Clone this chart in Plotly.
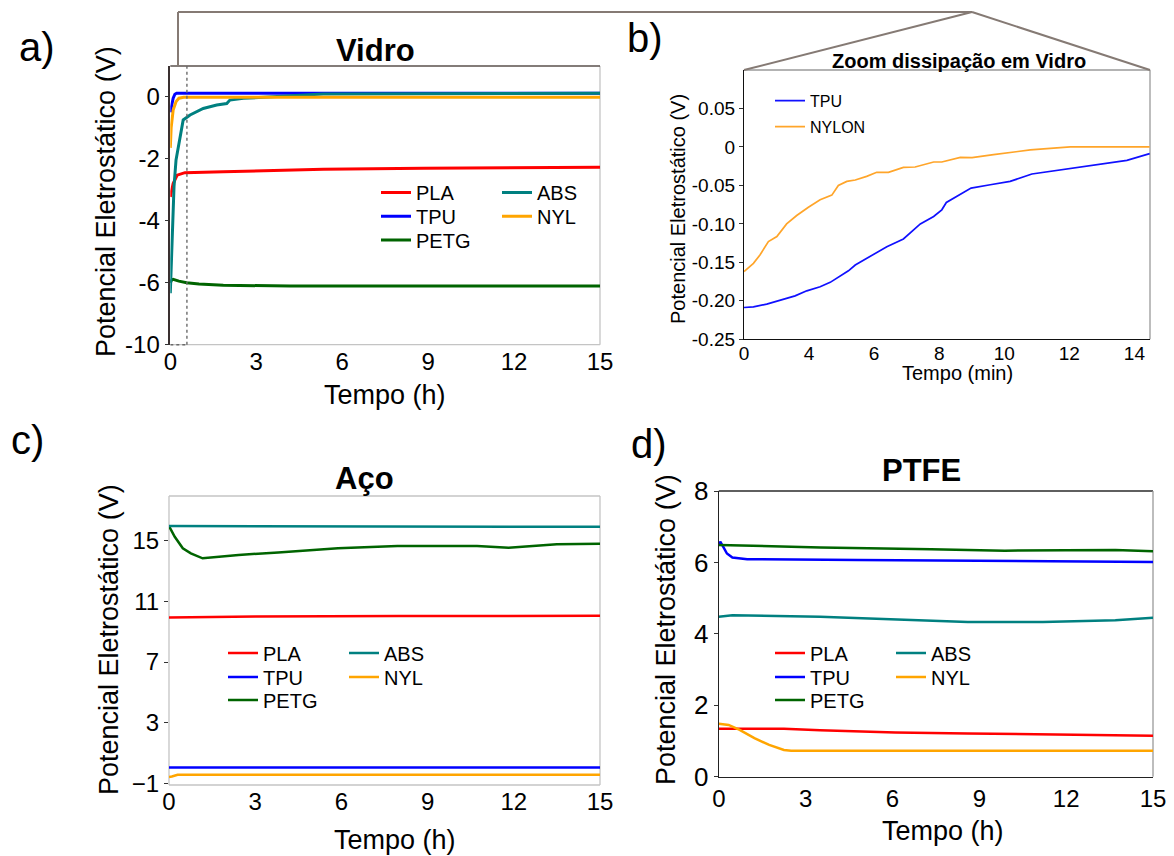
import plotly.graph_objects as go

W, H = 1174, 856
FONT = "Liberation Sans, Arial, sans-serif"

# ---------------- data ----------------
# a) Vidro  (time in h, potential in V)
vid_pla_t = [0, 0.1, 0.24, 0.51, 1.85, 5.34, 8.84, 12.33, 15]
vid_pla_v = [-3.23, -2.80, -2.53, -2.45, -2.42, -2.34, -2.31, -2.28, -2.28]
vid_tpu_t = [0, 0.05, 0.1, 0.16, 0.22, 15]
vid_tpu_v = [-0.50, -0.30, -0.05, 0.08, 0.11, 0.11]
vid_petg_t = [0, 0.05, 0.1, 0.3, 0.57, 1.0, 1.85, 3.0, 4.18, 8.84, 15]
vid_petg_v = [-6.0, -5.91, -5.89, -5.95, -6.0, -6.04, -6.08, -6.10, -6.11, -6.11, -6.11]
vid_abs_t = [0, 0.05, 0.09, 0.13, 0.2, 0.34, 0.45, 0.69, 1.15, 1.62, 1.97, 2.08, 2.55, 3.25, 4.18, 5.34, 15]
vid_abs_v = [-6.34, -5.0, -4.19, -2.9, -2.04, -1.29, -0.75, -0.59, -0.38, -0.27, -0.22, -0.11, -0.05, -0.02, 0.02, 0.09, 0.11]
vid_nyl_t = [0, 0.03, 0.1, 0.2, 0.3, 0.47, 15]
vid_nyl_v = [-1.65, -1.0, -0.43, -0.16, -0.05, -0.02, -0.02]
vid_y_ticks = [0, -2, -4, -6, -8]
vid_y_text = ["0", "-2", "-4", "-6", "-10"]
zoom_window_h = 0.58

# b) Zoom dissipação em Vidro  (time in min, potential in V)
zoom_tpu_t = [2.0, 2.29, 2.70, 3.26, 3.57, 3.93, 4.34, 4.65, 4.95, 5.21, 5.42, 5.98, 6.39, 6.90,
              7.42, 7.83, 8.08, 8.22, 8.65, 8.98, 9.57, 10.18, 10.85, 11.62, 12.54, 13.16, 13.77, 14.47]
zoom_tpu_v = [-0.2087, -0.2078, -0.2043, -0.1978, -0.1935, -0.187, -0.1817, -0.176, -0.168, -0.161,
              -0.1535, -0.140, -0.1296, -0.1196, -0.100, -0.0904, -0.0817, -0.0722, -0.0622, -0.0535,
              -0.0491, -0.0448, -0.0352, -0.0304, -0.0252, -0.0217, -0.0174, -0.0087]
zoom_nyl_t = [2.0, 2.29, 2.49, 2.75, 3.01, 3.31, 3.62, 3.98, 4.34, 4.70, 4.90, 5.16, 5.42, 5.77,
              6.08, 6.44, 6.90, 7.26, 7.83, 8.08, 8.65, 9.01, 9.67, 10.80, 12.03, 14.47]
zoom_nyl_v = [-0.162, -0.1513, -0.1404, -0.123, -0.1165, -0.100, -0.0891, -0.0783, -0.0687, -0.0626,
              -0.050, -0.0448, -0.043, -0.0383, -0.033, -0.033, -0.0265, -0.0261, -0.0196, -0.0196,
              -0.0135, -0.0139, -0.010, -0.0039, 0.0, 0.0]
zoom_x_ticks = [2, 4, 6, 8, 10, 12, 14]
zoom_x_text = ["0", "4", "6", "8", "10", "12", "14"]
zoom_y_ticks = [-0.25, -0.20, -0.15, -0.10, -0.05, 0, 0.05]
zoom_y_text = ["-0.25", "-0.20", "-0.15", "-0.10", "-0.05", "0", "0.05"]

# c) Aço
aco_pla_t = [0, 3, 8, 15]
aco_pla_v = [9.93, 10.0, 10.03, 10.05]
aco_tpu_t = [0, 15]
aco_tpu_v = [0.05, 0.05]
aco_petg_t = [0, 0.2, 0.48, 0.76, 1.17, 2.42, 3.8, 5.88, 7.95, 10.72, 11.82, 13.5, 15]
aco_petg_v = [15.97, 15.26, 14.5, 14.17, 13.84, 14.06, 14.23, 14.5, 14.65, 14.65, 14.54, 14.76, 14.8]
aco_abs_t = [0, 3, 6, 9, 12, 15]
aco_abs_v = [15.97, 15.95, 15.93, 15.92, 15.92, 15.92]
aco_nyl_t = [0, 0.1, 0.3, 15]
aco_nyl_v = [-0.58, -0.55, -0.43, -0.43]
aco_y_ticks = [-1, 3, 7, 11, 15]

# d) PTFE
ptfe_pla_t = [0, 2.25, 3.5, 6.1, 8.6, 11.2, 15]
ptfe_pla_v = [1.34, 1.34, 1.30, 1.24, 1.21, 1.18, 1.15]
ptfe_tpu_t = [0, 0.05, 0.15, 0.28, 0.47, 0.98, 4.8, 9.0, 15]
ptfe_tpu_v = [6.5, 6.58, 6.44, 6.25, 6.14, 6.09, 6.07, 6.04, 6.01]
ptfe_petg_t = [0, 3.52, 7.33, 9.88, 13.7, 15]
ptfe_petg_v = [6.49, 6.42, 6.37, 6.33, 6.35, 6.31]
ptfe_abs_t = [0, 0.47, 3.5, 6.1, 8.6, 11.2, 13.7, 15]
ptfe_abs_v = [4.48, 4.52, 4.48, 4.41, 4.33, 4.33, 4.38, 4.45]
ptfe_nyl_t = [0, 0.34, 0.72, 1.23, 1.74, 2.25, 2.5, 15]
ptfe_nyl_v = [1.48, 1.45, 1.31, 1.08, 0.89, 0.75, 0.73, 0.73]
ptfe_y_ticks = [0, 2, 4, 6, 8]

hour_ticks = [0, 3, 6, 9, 12, 15]

COL = {"PLA": "#ff0000", "TPU": "#0000ff", "PETG": "#006400", "ABS": "#008080", "NYL": "#ffa500"}


def fx(px):
    return px / W


def fy(py):
    return 1 - py / H


fig = go.Figure()


def add_panel(ax, series, legends, width):
    xa, ya = ("x", "y") if ax == 1 else (f"x{ax}", f"y{ax}")
    for (name, t, v) in series:
        fig.add_trace(go.Scatter(
            x=t, y=v, mode="lines", name=name, xaxis=xa, yaxis=ya,
            line=dict(color=COL[name], width=width), legend=legends[name],
            hoverinfo="x+y+name"))


add_panel(1, [("PLA", vid_pla_t, vid_pla_v), ("TPU", vid_tpu_t, vid_tpu_v),
              ("PETG", vid_petg_t, vid_petg_v), ("ABS", vid_abs_t, vid_abs_v),
              ("NYL", vid_nyl_t, vid_nyl_v)],
          {"PLA": "legend", "ABS": "legend", "TPU": "legend2", "NYL": "legend2", "PETG": "legend3"}, 3)

fig.add_trace(go.Scatter(x=zoom_tpu_t, y=zoom_tpu_v, mode="lines", name="TPU", xaxis="x2", yaxis="y2",
                         line=dict(color="#1010ff", width=1.7), legend="legend10"))
fig.add_trace(go.Scatter(x=zoom_nyl_t, y=zoom_nyl_v, mode="lines", name="NYLON", xaxis="x2", yaxis="y2",
                         line=dict(color="#ffa52a", width=1.7), legend="legend11"))

add_panel(3, [("PLA", aco_pla_t, aco_pla_v), ("TPU", aco_tpu_t, aco_tpu_v),
              ("PETG", aco_petg_t, aco_petg_v), ("ABS", aco_abs_t, aco_abs_v),
              ("NYL", aco_nyl_t, aco_nyl_v)],
          {"PLA": "legend4", "ABS": "legend4", "TPU": "legend5", "NYL": "legend5", "PETG": "legend6"}, 2.5)

add_panel(4, [("PLA", ptfe_pla_t, ptfe_pla_v), ("TPU", ptfe_tpu_t, ptfe_tpu_v),
              ("PETG", ptfe_petg_t, ptfe_petg_v), ("ABS", ptfe_abs_t, ptfe_abs_v),
              ("NYL", ptfe_nyl_t, ptfe_nyl_v)],
          {"PLA": "legend7", "ABS": "legend7", "TPU": "legend8", "NYL": "legend8", "PETG": "legend9"}, 2.5)

# ---------------- axes ----------------
common = dict(showgrid=False, zeroline=False, color="#000000", tickcolor="#333333", automargin=False)

fig.update_layout(
    xaxis=dict(domain=[fx(170.3), fx(600)], range=[0, 15], tickvals=hour_ticks, ticks="",
               tickfont=dict(size=24), anchor="y", showline=False, **common),
    yaxis=dict(domain=[fy(344.7), fy(66)], range=[-8, 0.99], tickvals=vid_y_ticks, ticktext=vid_y_text,
               ticks="outside", ticklen=4, tickfont=dict(size=24), anchor="x",
               showline=True, linecolor="#3a3030", linewidth=1.5, **common),
    xaxis2=dict(domain=[fx(744), fx(1150)], range=[2, 14.48], tickvals=zoom_x_ticks, ticktext=zoom_x_text,
                ticks="", tickfont=dict(size=19), anchor="y2", ticklabelstandoff=-3,
                showline=True, linecolor="#111111", linewidth=1.3, **common),
    yaxis2=dict(domain=[fy(339.3), fy(70)], range=[-0.25, 0.1], tickvals=zoom_y_ticks, ticktext=zoom_y_text,
                ticks="outside", ticklen=4, tickfont=dict(size=19), anchor="x2",
                showline=True, linecolor="#111111", linewidth=1.3, **common),
    xaxis3=dict(domain=[fx(169), fx(600)], range=[0, 15], tickvals=hour_ticks, ticks="",
                tickfont=dict(size=24), anchor="y3", showline=False, **common),
    yaxis3=dict(domain=[fy(785), fy(496)], range=[-1.11, 17.95], tickvals=aco_y_ticks,
                ticks="outside", ticklen=4, tickfont=dict(size=24), anchor="x3", showline=False, **common),
    xaxis4=dict(domain=[fx(718.8), fx(1153)], range=[0, 15], tickvals=hour_ticks, ticks="",
                tickfont=dict(size=24), anchor="y4",
                showline=True, linecolor="#222222", linewidth=1.3, **common),
    yaxis4=dict(domain=[fy(776.7), fy(491)], range=[0, 8], tickvals=ptfe_y_ticks,
                ticks="outside", ticklen=4, tickfont=dict(size=26), anchor="x4",
                showline=True, linecolor="#222222", linewidth=1.3, **common),
)

# ---------------- legends ----------------
leg_base = dict(orientation="h", entrywidth=76, entrywidthmode="pixels", bgcolor="rgba(0,0,0,0)",
                font=dict(size=20, color="#000000"), xanchor="left", yanchor="top",
                itemclick=False, itemdoubleclick=False)
ROW_OFF = 19.5  # item centre below the legend's top edge for 20 px text


def row_legend(x_line, y_row):
    d = dict(leg_base)
    d.update(x=fx(x_line - 5), y=fy(y_row - ROW_OFF))
    return d


small_leg = dict(orientation="h", bgcolor="rgba(0,0,0,0)", font=dict(size=16, color="#000000"),
                 xanchor="left", yanchor="top", itemclick=False, itemdoubleclick=False)

fig.update_layout(
    legend=row_legend(381, 192.5), legend2=row_legend(381, 216.3), legend3=row_legend(381, 240),
    legend4=row_legend(228, 653), legend5=row_legend(228, 677), legend6=row_legend(228, 700),
    legend7=row_legend(775, 653), legend8=row_legend(775, 677), legend9=row_legend(775, 700),
    legend10=dict(small_leg, x=fx(770), y=fy(100.7 - 16.9)),
    legend11=dict(small_leg, x=fx(770), y=fy(126.7 - 16.9)),
)

# ---------------- frames and zoom indicator ----------------
GRAY = "#c4c4c4"
DARK = "#2a2a2a"
LINK = "#857a74"
shapes = []


def border(ax, side, color, width=1.3, dash="solid"):
    xr, yr = ("x domain", "y domain") if ax == 1 else (f"x{ax} domain", f"y{ax} domain")
    pts = {"top": (0, 1, 1, 1), "bottom": (0, 0, 1, 0), "left": (0, 0, 0, 1), "right": (1, 0, 1, 1)}[side]
    shapes.append(dict(type="line", xref=xr, yref=yr, x0=pts[0], y0=pts[1], x1=pts[2], y1=pts[3],
                       line=dict(color=color, width=width, dash=dash), layer="below"))


# a) frame
border(1, "bottom", GRAY)
border(1, "right", GRAY)
border(1, "top", "#5a504c", 1.5)
# dotted window marking the zoomed interval
shapes.append(dict(type="line", xref="x", yref="y domain", x0=zoom_window_h, x1=zoom_window_h, y0=0, y1=1,
                   line=dict(color="#6a6a6a", width=1.4, dash="dot")))
shapes.append(dict(type="line", xref="x", yref="y domain", x0=0, x1=zoom_window_h, y0=0, y1=0,
                   line=dict(color="#6a6a6a", width=1.4, dash="dot")))
# b) frame
border(2, "top", "#9a9a9a")
border(2, "right", "#9a9a9a")
# c) frame
for s in ("top", "bottom", "left", "right"):
    border(3, s, GRAY)
# d) frame
border(4, "top", DARK)
border(4, "right", "#9a9a9a")

# connector from the Vidro panel to the zoom panel
for (x0, y0, x1, y1) in [(178, 66, 178, 12), (178, 12, 972, 12), (972, 12, 744, 70), (972, 12, 1150, 70)]:
    shapes.append(dict(type="line", xref="paper", yref="paper", x0=fx(x0), y0=fy(y0), x1=fx(x1), y1=fy(y1),
                       line=dict(color=LINK, width=2)))

# ---------------- text ----------------
ann = []


def text(s, x, y, size, bold=False, angle=0):
    ann.append(dict(text=f"<b>{s}</b>" if bold else s, x=fx(x), y=fy(y), xref="paper", yref="paper",
                    showarrow=False, xanchor="center", yanchor="middle", textangle=angle,
                    font=dict(size=size, color="#000000", family=FONT)))


text("a)", 37, 47, 40)
text("b)", 645, 38, 40)
text("c)", 27, 440, 40)
text("d)", 649, 444, 40)

text("Vidro", 375, 50, 31, bold=True)
text("Zoom dissipação em Vidro", 959, 61, 20, bold=True)
text("Aço", 364, 478, 31, bold=True)
text("PTFE", 921, 470, 31, bold=True)

YT = "Potencial Eletrostático (V)"
text(YT, 106, 202, 27, angle=-90)
text(YT, 678, 209, 20, angle=-90)
text(YT, 109, 640, 27, angle=-90)
text(YT, 666, 630, 27, angle=-90)

text("Tempo (h)", 385, 395, 27)
text("Tempo (min)", 957, 373, 20)
text("Tempo (h)", 395, 840, 27)
text("Tempo (h)", 943, 831, 27)

fig.update_layout(
    width=W, height=H, margin=dict(l=0, r=0, t=0, b=0, pad=0, autoexpand=False),
    paper_bgcolor="white", plot_bgcolor="white",
    font=dict(family=FONT, color="#000000"),
    shapes=shapes, annotations=ann, showlegend=True,
)

fig.write_html("out.html")
